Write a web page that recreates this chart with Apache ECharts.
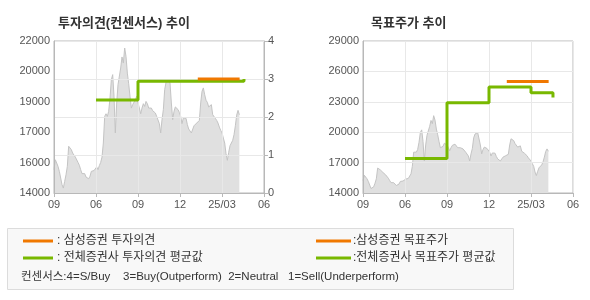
<!DOCTYPE html>
<html><head><meta charset="utf-8">
<script src="https://cdn.jsdelivr.net/npm/echarts@6/dist/echarts.min.js"></script>
<style>html,body{margin:0;padding:0;background:#fff}#c{width:590px;height:300px}</style>
</head><body><div id="c"></div>
<script>
// x-axis: months from start, tick every 3 months
var tickLabels = ['09','06','09','12','25/03','06'];
// daily-ish closing prices (sampled)
var prices = [15230,15750,15580,15400,15140,14790,14440,14260,14610,14960,15400,16460,16540,16280,16100,16020,15890,15790,15610,15460,
15230,15020,15110,15020,14840,14740,14750,14880,15140,15230,15180,15260,15370,15230,15440,15610,15890,16630,18030,18170,
18030,18300,19000,19960,20230,19090,17160,18740,19700,19790,20580,21160,20840,21630,21190,20310,19750,19090,18470,18650,
18600,18910,19090,18740,18470,18170,18470,18700,18560,18820,18700,18470,18390,18470,18330,18350,18210,18030,18120,17650,
17160,17860,18390,19440,19820,19790,19960,19790,18740,17860,18300,18530,18460,18390,18240,18030,17650,17950,17890,17930,
17600,17370,17300,17160,17240,17540,17470,17680,17600,17820,18740,19350,19530,19170,18880,18770,18530,18470,18650,18120,
18030,17930,17820,17680,17470,17300,17160,16890,16630,16070,15720,16140,16490,16630,16770,17070,17540,18100,18350,18120];
var priceStartMonth = 0, priceEndMonth = 13.24;
// consensus opinion average (step changes)
var opinionMonths = [3, 6, 13.57];
var opinionAvg = [2.45, 2.94, 3.0];
// Samsung opinion
var samsungOpinionMonths = [10.27, 13.26];
var samsungOpinion = [3, 3];
// consensus target price average
var targetMonths = [3, 6, 9, 12, 13.57];
var targetAvg = [17400, 22900, 24450, 23900, 23420];
// Samsung target price
var samsungTargetMonths = [10.27, 13.26];
var samsungTarget = [25000, 25000];

var ORANGE = '#f07800', GREEN = '#78b800';
var FONT = '"Liberation Sans","Noto Sans CJK KR",sans-serif';
var step = (priceEndMonth - priceStartMonth) / (prices.length - 1);
var priceData = prices.map(function(p, i){ return [priceStartMonth + i*step, p]; });
function pair(xs, ys){ return xs.map(function(x,i){ return [x, ys[i]]; }); }

var chart = echarts.init(document.getElementById('c'), null, {renderer:'canvas'});
function xAx(gi){
  return {gridIndex:gi, type:'value', min:0, max:15, interval:3, z:3,
    axisLine:{show:true, lineStyle:{color:'#b8b8b8'}},
    axisTick:{show:true, length:4, lineStyle:{color:'#b8b8b8'}},
    axisLabel:{color:'#555', fontSize:11, fontFamily:FONT, margin:6,
      formatter:function(v){ return tickLabels[Math.round(v/3)]; }},
    splitLine:{show:true, lineStyle:{color:'#e8e8e8', width:1}}};
}
function lbl(fmt){ return {color:'#555', fontSize:11, fontFamily:FONT, margin:4, formatter:fmt}; }
chart.setOption({
  animation:false,
  textStyle:{fontFamily:FONT},
  title:[
    {text:'투자의견(컨센서스) 추이', left:53, top:12, textStyle:{fontSize:13, fontWeight:'bold', color:'#333', fontFamily:FONT}},
    {text:'목표주가 추이', left:366, top:12, textStyle:{fontSize:13, fontWeight:'bold', color:'#333', fontFamily:FONT}}
  ],
  grid:[
    {left:54, right:326, top:41, bottom:107, show:true, borderColor:'#b8b8b8', borderWidth:1, backgroundColor:'#fff', z:0},
    {left:363, right:17, top:41, bottom:107, show:true, borderColor:'#b8b8b8', borderWidth:1, backgroundColor:'#fff', z:0}
  ],
  xAxis:[xAx(0), xAx(1)],
  yAxis:[
    {gridIndex:0, type:'value', min:14000, max:22000, interval:1600, position:'left', z:3,
      axisLine:{show:true, lineStyle:{color:'#b8b8b8'}}, axisTick:{show:false},
      axisLabel:lbl(function(v){return String(Math.round(v/1000)*1000);}),
      splitLine:{show:false}},
    {gridIndex:0, type:'value', min:0, max:4, interval:1, position:'right', z:3,
      axisLine:{show:true, lineStyle:{color:'#b8b8b8'}}, axisTick:{show:true, length:4, lineStyle:{color:'#b8b8b8'}},
      axisLabel:lbl(function(v){return String(v);}),
      splitLine:{show:true, lineStyle:{color:'#e8e8e8'}}},
    {gridIndex:1, type:'value', min:14000, max:29000, interval:3000, position:'left', z:3,
      axisLine:{show:true, lineStyle:{color:'#b8b8b8'}}, axisTick:{show:false},
      axisLabel:lbl(function(v){return String(v);}),
      splitLine:{show:true, lineStyle:{color:'#e8e8e8'}}}
  ],
  series:[
    {type:'line', xAxisIndex:0, yAxisIndex:0, data:priceData, symbol:'none', z:2,
      lineStyle:{color:'#c4c4c4', width:1}, areaStyle:{color:'#e0e0e0', opacity:1}},
    {type:'line', xAxisIndex:1, yAxisIndex:2, data:priceData, symbol:'none', z:2,
      lineStyle:{color:'#c4c4c4', width:1}, areaStyle:{color:'#e0e0e0', opacity:1}},
    {type:'line', xAxisIndex:0, yAxisIndex:1, data:pair(opinionMonths, opinionAvg), step:'end', symbol:'none', z:5,
      lineStyle:{color:GREEN, width:3}},
    {type:'line', xAxisIndex:0, yAxisIndex:1, data:pair(samsungOpinionMonths, samsungOpinion), symbol:'none', z:6,
      lineStyle:{color:ORANGE, width:3}},
    {type:'line', xAxisIndex:1, yAxisIndex:2, data:pair(targetMonths, targetAvg), step:'end', symbol:'none', z:5,
      lineStyle:{color:GREEN, width:3}},
    {type:'line', xAxisIndex:1, yAxisIndex:2, data:pair(samsungTargetMonths, samsungTarget), symbol:'none', z:6,
      lineStyle:{color:ORANGE, width:3}}
  ],
  graphic:[
    {type:'rect', shape:{x:7.5, y:228.5, width:506, height:61}, style:{fill:'#f8f8f8', stroke:'#dcdcdc', lineWidth:1}, z:1},
    {type:'line', shape:{x1:23, y1:241, x2:53, y2:241}, style:{stroke:ORANGE, lineWidth:3}, z:2},
    {type:'text', x:57, y:241, style:{text:': 삼성증권 투자의견', fill:'#333', font:'12px '+FONT, textVerticalAlign:'middle'}, z:2},
    {type:'line', shape:{x1:23, y1:258, x2:53, y2:258}, style:{stroke:GREEN, lineWidth:3}, z:2},
    {type:'text', x:57, y:258, style:{text:': 전체증권사 투자의견 평균값', fill:'#333', font:'12px '+FONT, textVerticalAlign:'middle'}, z:2},
    {type:'line', shape:{x1:316, y1:241, x2:351, y2:241}, style:{stroke:ORANGE, lineWidth:3}, z:2},
    {type:'text', x:353, y:241, style:{text:':삼성증권 목표주가', fill:'#333', font:'12px '+FONT, textVerticalAlign:'middle'}, z:2},
    {type:'line', shape:{x1:316, y1:258, x2:351, y2:258}, style:{stroke:GREEN, lineWidth:3}, z:2},
    {type:'text', x:353, y:258, style:{text:':전체증권사 목표주가 평균값', fill:'#333', font:'12px '+FONT, textVerticalAlign:'middle'}, z:2},
    {type:'text', x:21, y:277, style:{text:'컨센서스:4=S/Buy    3=Buy(Outperform)  2=Neutral   1=Sell(Underperform)', fill:'#333', font:'11.5px '+FONT, textVerticalAlign:'middle'}, z:2}
  ]
});
</script></body></html>
